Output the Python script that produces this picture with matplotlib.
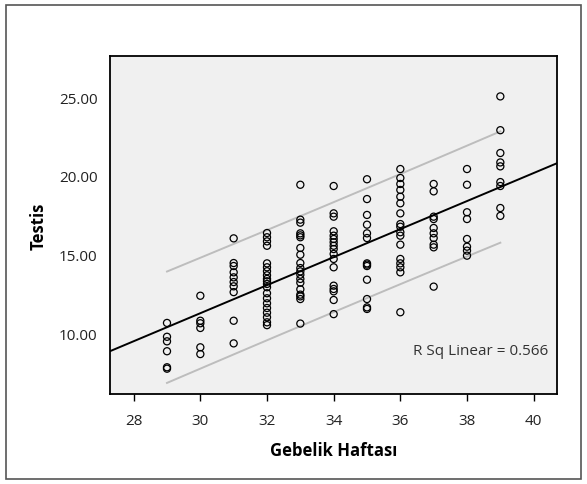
import numpy as np
import matplotlib
matplotlib.use("Agg")
import matplotlib.pyplot as plt
from matplotlib.patches import Rectangle

plt.rcParams['font.family'] = ['Open Sans', 'DejaVu Sans']

# Gestational week (x) and testis values (y), read column by column
w29 = [10.64, 9.76, 9.47, 8.84, 7.82, 7.73]
w30 = [12.37, 10.78, 10.62, 10.32, 9.09, 8.66]
w31 = [16.02, 14.45, 14.26, 13.86, 13.54, 13.24, 12.97, 12.6, 10.78, 9.34]
w32 = [16.36, 16.09, 15.83, 15.55, 14.43, 14.18, 13.93, 13.67, 13.44, 13.29,
       13.12, 12.91, 12.53, 12.21, 11.89, 11.59, 11.29, 11.0, 10.68, 10.5]
w33 = [19.43, 17.21, 17.02, 16.34, 16.21, 16.09, 15.41, 14.98, 14.45, 14.13,
       13.92, 13.71, 13.44, 13.2, 12.78, 12.44, 12.33, 12.16, 10.6]
w34 = [19.35, 17.61, 17.40, 16.47, 16.19, 15.98, 15.77, 15.55, 15.34, 15.03,
       14.71, 14.18, 13.01, 12.80, 12.65, 12.10, 11.2]
w35 = [19.78, 18.52, 17.51, 16.89, 16.34, 16.04, 14.43, 14.35, 14.26, 13.39,
       12.16, 11.63, 11.53]
w36 = [20.43, 19.86, 19.48, 19.10, 18.67, 18.25, 17.61, 16.93, 16.76, 16.41,
       16.19, 15.62, 14.71, 14.43, 14.18, 13.86, 11.32]
w37 = [19.48, 19.01, 17.40, 17.25, 16.68, 16.34, 16.04, 15.62, 15.45, 12.95]
w38 = [20.43, 19.43, 17.68, 17.25, 15.98, 15.49, 15.24, 14.92]
w39 = [25.05, 22.9, 21.45, 20.85, 20.6, 19.6, 19.35, 17.95, 17.45]

weeks = [29, 30, 31, 32, 33, 34, 35, 36, 37, 38, 39]
columns = [w29, w30, w31, w32, w33, w34, w35, w36, w37, w38, w39]

x_ticks = [28, 30, 32, 34, 36, 38, 40]
y_ticks = [10, 15, 20, 25]
r2_text = "R Sq Linear = 0.566"

x = np.concatenate([[wk] * len(c) for wk, c in zip(weeks, columns)]).astype(float)
y = np.concatenate(columns).astype(float)

fig = plt.figure(figsize=(5.87, 4.85), dpi=100)
ax = fig.add_axes([110 / 587, (485 - 395) / 485, (557 - 110) / 587, (395 - 57) / 485])
ax.set_facecolor('#f0f0f0')

xlim = (27.29, 40.70)
ax.set_xlim(*xlim)
ax.set_ylim(6.12, 27.62)

# Linear fit and prediction interval
b, a = np.polyfit(x, y, 1)
n = len(x)
resid = y - (a + b * x)
s = np.sqrt(np.sum(resid ** 2) / (n - 2))
sxx = np.sum((x - x.mean()) ** 2)
t = 1.6
xl = np.linspace(xlim[0], xlim[1], 50)
ax.plot(xl, a + b * xl, color='black', lw=1.4, zorder=3)
xp = np.linspace(min(weeks), max(weeks), 50)
half = t * s * np.sqrt(1 + 1 / n + (xp - x.mean()) ** 2 / sxx)
ax.plot(xp, a + b * xp + half, color='#bdbdbd', lw=1.4, zorder=2)
ax.plot(xp, a + b * xp - half, color='#bdbdbd', lw=1.4, zorder=2)

ax.scatter(x, y, s=26, facecolors='none', edgecolors='black', linewidths=0.9, zorder=4)

ax.set_xticks(x_ticks)
ax.set_xticklabels([str(v) for v in x_ticks])
ax.set_yticks(y_ticks)
ax.set_yticklabels([f"{v:.2f}" for v in y_ticks])
ax.tick_params(axis='x', length=5, width=1, color='black', labelsize=11, pad=9, labelcolor='#222222')
ax.tick_params(axis='y', length=0, labelsize=11, pad=9, labelcolor='#222222')
for sp in ax.spines.values():
    sp.set_linewidth(1.3)
    sp.set_color('black')

ax.set_xlabel('Gebelik Haftası', fontsize=12, fontweight='bold', labelpad=9)
ax.set_ylabel('Testis', fontsize=12, fontweight='bold', labelpad=8)

ax.text(40.45, 8.9, r2_text, ha='right', va='center', fontsize=11, color='#333333')

fig.patches.append(Rectangle((6 / 587, 5 / 485), 575 / 587, 474 / 485, transform=fig.transFigure,
                             fill=False, edgecolor='#555555', lw=1.2))

fig.savefig('out.png', dpi=100, facecolor='white')
